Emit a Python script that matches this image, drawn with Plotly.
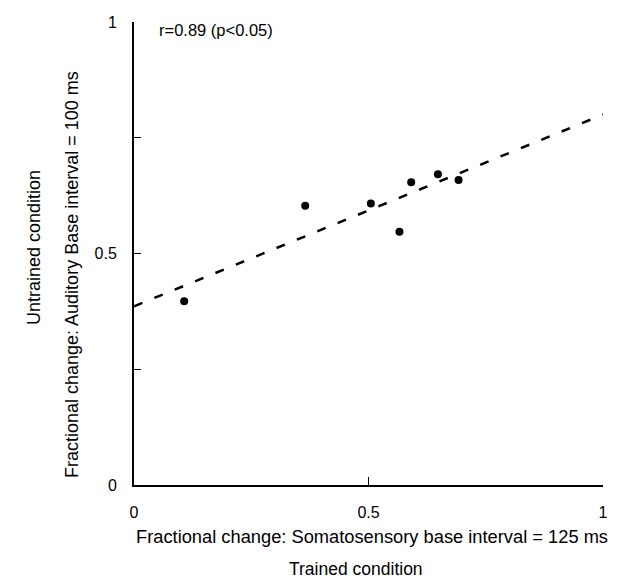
import plotly.graph_objects as go

# Data
trained = [0.107, 0.365, 0.505, 0.566, 0.591, 0.648, 0.692]
untrained = [0.397, 0.603, 0.608, 0.547, 0.654, 0.671, 0.659]
fit_intercept = 0.386
fit_slope = 0.414
fit_x = [0.0, 1.0]
fit_y = [fit_intercept + fit_slope * x for x in fit_x]

x_tickvals = [0, 0.5, 1]
x_ticktext = ["0", "0.5", "1"]
y_tickvals = [0, 0.25, 0.5, 0.75, 1]
y_ticktext = ["0", "", "0.5", "", "1"]

FONT = "Liberation Sans, Arial, Helvetica, sans-serif"

fig = go.Figure()
fig.add_trace(go.Scatter(
    x=fit_x, y=fit_y, mode="lines",
    line=dict(color="black", width=2.5, dash="9px,13px"),
    hoverinfo="skip", cliponaxis=False,
))
fig.add_trace(go.Scatter(
    x=trained, y=untrained, mode="markers",
    marker=dict(color="black", size=8),
    cliponaxis=False,
))

fig.update_layout(
    width=624, height=579,
    margin=dict(l=134, r=21, t=22, b=94),
    paper_bgcolor="white", plot_bgcolor="white",
    showlegend=False,
    font=dict(family=FONT, color="black", size=16),
    xaxis=dict(
        range=[0, 1], tickvals=x_tickvals, ticktext=x_ticktext,
        ticks="inside", ticklen=8, tickwidth=1, tickcolor="black",
        showline=True, linecolor="black", linewidth=2,
        showgrid=False, zeroline=False, ticklabelstandoff=12,
        tickfont=dict(size=16),
    ),
    yaxis=dict(
        range=[0, 1], tickvals=y_tickvals, ticktext=y_ticktext,
        ticks="inside", ticklen=7, tickwidth=1, tickcolor="black",
        showline=True, linecolor="black", linewidth=2,
        showgrid=False, zeroline=False, ticklabelstandoff=12,
        tickfont=dict(size=16),
    ),
)

fig.add_annotation(
    text="r=0.89 (p<0.05)", xref="paper", yref="paper",
    x=(157 - 134) / 469, y=(485 - 30) / 463, xanchor="left", yanchor="middle",
    showarrow=False, font=dict(size=16.5),
)
fig.add_annotation(
    text="Fractional change: Somatosensory base interval = 125 ms",
    xref="paper", yref="paper", x=(372 - 134) / 469, y=(485 - 536) / 463,
    xanchor="center", yanchor="middle", showarrow=False, font=dict(size=18.3),
)
fig.add_annotation(
    text="Trained condition",
    xref="paper", yref="paper", x=(356 - 134) / 469, y=(485 - 569) / 463,
    xanchor="center", yanchor="middle", showarrow=False, font=dict(size=17.5),
)
fig.add_annotation(
    text="Fractional change: Auditory Base interval = 100 ms",
    xref="paper", yref="paper", x=(72 - 134) / 469, y=(485 - 275) / 463,
    xanchor="center", yanchor="middle", textangle=-90, showarrow=False,
    font=dict(size=18),
)
fig.add_annotation(
    text="Untrained condition",
    xref="paper", yref="paper", x=(34 - 134) / 469, y=(485 - 248) / 463,
    xanchor="center", yanchor="middle", textangle=-90, showarrow=False,
    font=dict(size=18),
)

fig.write_html("out.html")
